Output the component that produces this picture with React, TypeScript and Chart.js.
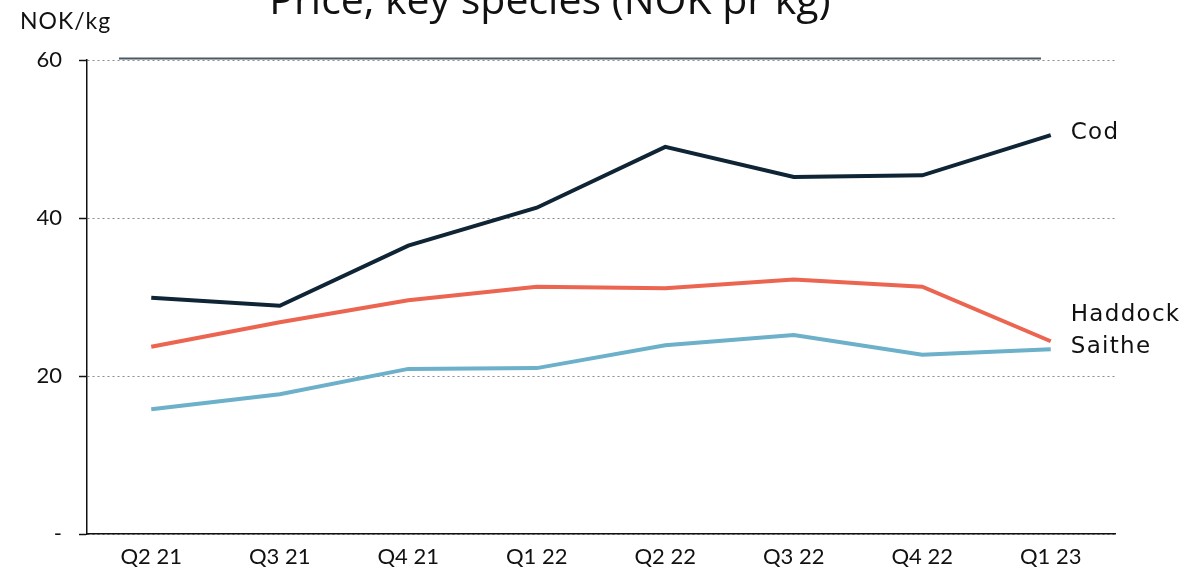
import React, { useEffect, useRef } from "react";
import { Chart, registerables } from "chart.js";

Chart.register(...registerables);

const categories = ["Q2 21", "Q3 21", "Q4 21", "Q1 22", "Q2 22", "Q3 22", "Q4 22", "Q1 23"];
const codValues = [29.9, 28.9, 36.5, 41.3, 49.0, 45.2, 45.4, 50.5];
const haddockValues = [23.7, 26.8, 29.6, 31.3, 31.1, 32.2, 31.3, 24.4];
const saitheValues = [15.8, 17.7, 20.9, 21.0, 23.9, 25.2, 22.7, 23.4];
const seriesNames = ["Cod", "Haddock", "Saithe"];
const seriesColors = ["#0f2434", "#ec6550", "#6cb0c9"];
const yTicks = [0, 20, 40, 60];
const titleText = "Price, key species (NOK pr kg)";
const unitText = "NOK/kg";

const overlayPlugin = {
  id: "overlay",
  afterDraw(chart: any) {
    const ctx = chart.ctx;
    const area = chart.chartArea;
    ctx.save();
    // title
    ctx.fillStyle = "#111";
    ctx.font = "41px 'Open Sans'";
    ctx.textAlign = "center";
    ctx.textBaseline = "alphabetic";
    ctx.fillText(titleText, 550, 14);
    // unit
    ctx.font = "23px Lato";
    (ctx as any).letterSpacing = "1px";
    ctx.textAlign = "left";
    ctx.fillStyle = "#111";
    ctx.fillText(unitText, 20, 29);
    // top decorative line
    ctx.strokeStyle = "#4b5865";
    ctx.lineWidth = 2;
    ctx.beginPath();
    ctx.moveTo(area.left + 32, area.top - 1.5);
    ctx.lineTo(area.right - 74, area.top - 1.5);
    ctx.stroke();
    // end labels
    const labels: { name: string; y: number; x: number }[] = [];
    chart.data.datasets.forEach((ds: any, i: number) => {
      const meta = chart.getDatasetMeta(i);
      const pt = meta.data[meta.data.length - 1];
      labels.push({ name: ds.label, y: pt.y - 2, x: pt.x + 20 });
    });
    labels.sort((a, b) => b.y - a.y);
    const gap = 32;
    for (let i = 1; i < labels.length; i++) {
      if (labels[i - 1].y - labels[i].y < gap) labels[i].y = labels[i - 1].y - gap;
    }
    ctx.font = "23px 'DejaVu Sans'";
    (ctx as any).letterSpacing = "1.3px";
    ctx.textBaseline = "middle";
    ctx.fillStyle = "#111";
    labels.forEach((l) => ctx.fillText(l.name, l.x, l.y));
    ctx.restore();
  },
};

export default function App() {
  const ref = useRef<HTMLCanvasElement | null>(null);
  useEffect(() => {
    if (!ref.current) return;
    const values = [codValues, haddockValues, saitheValues];
    const chart = new Chart(ref.current, {
      type: "line",
      data: {
        labels: categories,
        datasets: values.map((v, i) => ({
          label: seriesNames[i],
          data: v,
          borderColor: seriesColors[i],
          backgroundColor: seriesColors[i],
          borderWidth: 4,
          pointRadius: 0,
          tension: 0,
          fill: false,
        })),
      },
      options: {
        animation: false,
        responsive: true,
        maintainAspectRatio: false,
        layout: { padding: { top: 60, right: 83, left: 0, bottom: 0 } },
        plugins: { legend: { display: false }, tooltip: { enabled: false }, title: { display: false } },
        scales: {
          x: {
            type: "category",
            offset: true,
            grid: { display: false, drawTicks: false },
            border: { display: true, color: "#111", width: 1.5 },
            ticks: { color: "#111", font: { family: "Lato", size: 22 }, padding: 10, maxRotation: 0 },
            afterFit: (s: any) => { s.height = 37; },
          },
          y: {
            min: 0,
            max: 60,
            afterBuildTicks: (s: any) => { s.ticks = yTicks.map((v) => ({ value: v })); },
            grid: {
              color: "#8a8a8a",
              lineWidth: 1,
              tickColor: "#111",
              tickBorderDash: [],
              tickLength: 8,
              tickWidth: 1.5,
            } as any,
            border: { display: true, color: "#111", width: 1.5, dash: [2, 3] },
            ticks: {
              color: "#111",
              font: { family: "Lato", size: 22 },
              padding: 17,
              callback: (v: any) => (Number(v) === 0 ? "-" : String(v)),
            },
            afterFit: (s: any) => { s.width = 87; },
          },
        },
      },
      plugins: [overlayPlugin],
    });
    return () => chart.destroy();
  }, []);
  return (
    <div style={{ position: "absolute", left: 0, top: 0, width: 1198, height: 571, background: "#fff" }}>
      <canvas ref={ref} />
    </div>
  );
}
